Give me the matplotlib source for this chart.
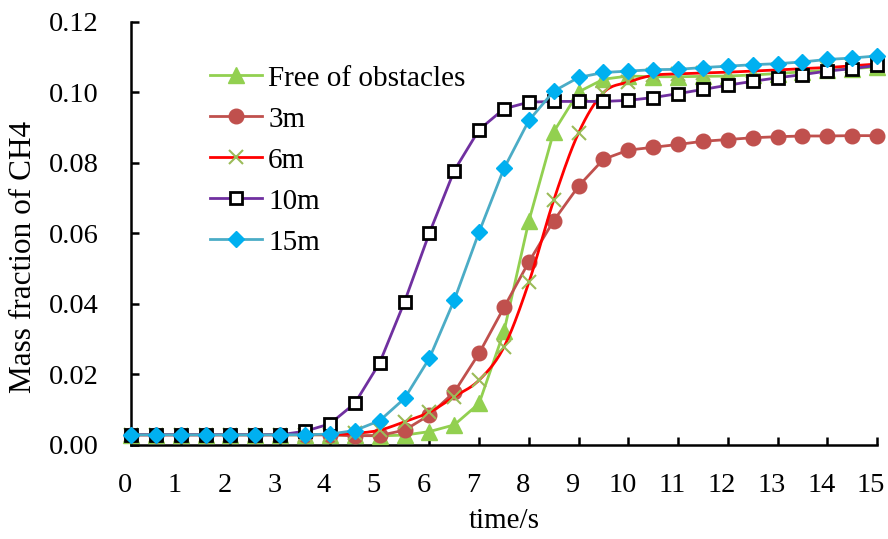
import numpy as np
import matplotlib
matplotlib.use("Agg")
import matplotlib.pyplot as plt
import matplotlib.transforms as mtransforms

plt.rcParams['font.family'] = ['Liberation Serif', 'DejaVu Serif']

time = [0, 0.5, 1, 1.5, 2, 2.5, 3, 3.5, 4, 4.5, 5, 5.5, 6, 6.5, 7, 7.5, 8, 8.5,
        9, 9.5, 10, 10.5, 11, 11.5, 12, 12.5, 13, 13.5, 14, 14.5, 15]

free = [0.0029, 0.0029, 0.0029, 0.0029, 0.0029, 0.0029, 0.0029, 0.0029, 0.0029,
        0.0027, 0.0026, 0.0028, 0.0038, 0.0057, 0.0118, 0.0322, 0.0635, 0.0888,
        0.1001, 0.1037, 0.1046, 0.1044, 0.1044, 0.1045, 0.1046, 0.1049, 0.1053,
        0.1058, 0.1062, 0.1067, 0.1072]
m3 = [0.0029, 0.0029, 0.0029, 0.0029, 0.0029, 0.0029, 0.0029, 0.0029, 0.0029,
      0.0026, 0.0027, 0.0042, 0.0085, 0.0150, 0.0260, 0.0390, 0.0519, 0.0636,
      0.0734, 0.0810, 0.0836, 0.0844, 0.0852, 0.0861, 0.0866, 0.0871, 0.0874,
      0.0876, 0.0876, 0.0877, 0.0877]
m6 = [0.0029, 0.0029, 0.0029, 0.0029, 0.0029, 0.0029, 0.0029, 0.0029, 0.0029,
      0.0033, 0.0042, 0.0066, 0.0093, 0.0137, 0.0184, 0.0278, 0.0461, 0.0694,
      0.0885, 0.0999, 0.1029, 0.1048, 0.1052, 0.1055, 0.1057, 0.1060, 0.1063,
      0.1067, 0.1070, 0.1075, 0.1080]
m10 = [0.0029, 0.0029, 0.0029, 0.0029, 0.0029, 0.0029, 0.0029, 0.0039, 0.0060,
       0.0118, 0.0233, 0.0406, 0.0601, 0.0778, 0.0894, 0.0953, 0.0972, 0.0974,
       0.0974, 0.0974, 0.0977, 0.0985, 0.0996, 0.1008, 0.1020, 0.1031, 0.1041,
       0.1050, 0.1060, 0.1067, 0.1076]
m15 = [0.0029, 0.0029, 0.0029, 0.0029, 0.0029, 0.0029, 0.0029, 0.0029, 0.0031,
       0.0041, 0.0069, 0.0132, 0.0246, 0.0411, 0.0604, 0.0784, 0.0920, 0.1003,
       0.1042, 0.1056, 0.1060, 0.1064, 0.1065, 0.1070, 0.1074, 0.1078, 0.1081,
       0.1086, 0.1093, 0.1097, 0.1103]

labels = ["Free of obstacles", "3m", "6m", "10m", "15m"]
xticks = list(range(0, 16))
yticks = [0.00, 0.02, 0.04, 0.06, 0.08, 0.10, 0.12]


def catmull_rom(x, y, n=16):
    x = np.asarray(x, float)
    y = np.asarray(y, float)
    px = np.concatenate([[x[0]], x, [x[-1]]])
    py = np.concatenate([[y[0]], y, [y[-1]]])
    ox, oy = [], []
    t = np.linspace(0, 1, n, endpoint=False)
    for i in range(1, len(px) - 2):
        p0, p1, p2, p3 = (np.array([px[j], py[j]]) for j in (i - 1, i, i + 1, i + 2))
        tt = t[:, None]
        pts = 0.5 * ((2 * p1) + (-p0 + p2) * tt + (2 * p0 - 5 * p1 + 4 * p2 - p3) * tt ** 2
                     + (-p0 + 3 * p1 - 3 * p2 + p3) * tt ** 3)
        ox.extend(pts[:, 0]); oy.extend(pts[:, 1])
    ox.append(x[-1]); oy.append(y[-1])
    return np.array(ox), np.array(oy)


fig = plt.figure(figsize=(8.88, 5.39), dpi=100)
ax = fig.add_axes([131 / 888, 1 - 445 / 539, 746 / 888, 423.3 / 539])

lw = 2.0
ax.plot(time, free, color='#92D050', lw=lw, marker='^', ms=11, mfc='#92D050',
        mec='#92D050', clip_on=False, zorder=3, label=labels[0])
ax.plot(time, m3, color='#C0504D', lw=lw, marker='o', ms=10.5, mfc='#C0504D',
        mec='#C0504D', clip_on=False, zorder=4, label=labels[1])
sx, sy = catmull_rom(time, m6)
ax.plot(sx, sy, color='#FF0000', lw=lw, clip_on=False, zorder=5)
ax.plot(time, m6, ls='none', marker='x', ms=9.5, mew=1.5, mec='#9BBB59',
        clip_on=False, zorder=5)
ax.plot([], [], color='#FF0000', lw=lw, marker='x', ms=9.5, mew=1.5, mec='#9BBB59',
        label=labels[2])
ax.plot(time, m10, color='#7030A0', lw=lw, marker='s', ms=8.5, mfc='white',
        mec='black', mew=2, clip_on=False, zorder=6, label=labels[3])
ax.plot(time, m15, color='#4BACC6', lw=lw, marker='D', ms=8.5, mfc='#00B0F0',
        mec='#00B0F0', clip_on=False, zorder=7, label=labels[4])

ax.set_xlim(0, 15)
ax.set_ylim(0, 0.12)
ax.set_xticks(xticks)
ax.set_yticks(yticks)
ax.set_yticklabels([f"{v:.2f}" for v in yticks])
for s in ('top', 'right'):
    ax.spines[s].set_visible(False)
for s in ('left', 'bottom'):
    ax.spines[s].set_linewidth(1.8)
ax.tick_params(axis='both', direction='in', width=1.8, length=6, labelsize=20.5)
ax.tick_params(axis='y', pad=23)
ax.tick_params(axis='x', pad=20)
offset = mtransforms.ScaledTranslation(-6 / 100, 0, fig.dpi_scale_trans)
for lab in ax.get_xticklabels():
    lab.set_transform(lab.get_transform() + offset)

ax.set_xlabel("time/s", fontsize=21)
ax.xaxis.set_label_coords(0.5, -0.15)
ax.set_ylabel("Mass fraction of CH4", fontsize=22.5)
ax.yaxis.set_label_coords(-0.124, 0.445)

ax.legend(loc='upper left', bbox_to_anchor=(0.09, 0.925), frameon=False, fontsize=21,
          handlelength=1.8, handletextpad=0.2, labelspacing=0.5, numpoints=1,
          borderaxespad=0)

fig.savefig("out.png", dpi=100)
